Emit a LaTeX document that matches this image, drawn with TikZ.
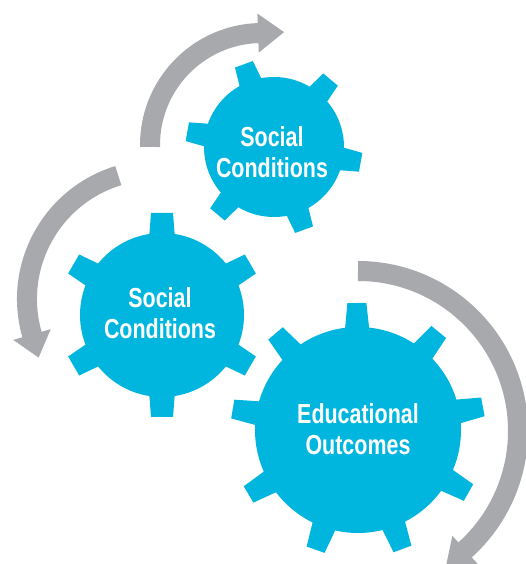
\documentclass[tikz,border=0pt]{standalone}
\usepackage{fontspec}
\newfontfamily\gearfont[FakeStretch=0.78]{Liberation Sans}
\definecolor{gearblue}{RGB}{0,182,222}
\definecolor{arrowgray}{RGB}{167,169,172}
\tikzset{
  gearlabel/.style={text=white, font=\gearfont\bfseries\fontsize{27.5}{31}\selectfont, align=center, inner sep=0pt},
  band/.style={draw=arrowgray, line width=20pt},
  headfill/.style={fill=arrowgray},
  gearfill/.style={fill=gearblue},
}
\begin{document}
\begin{tikzpicture}[x=1pt,y=1pt]
\useasboundingbox (0,0) rectangle (526,564);

% ---- arrows ----
\draw[band] (262,419) ++(181:112) arc[start angle=181, end angle=91.5, radius=112];
\fill[headfill, shift={(262,419)}, rotate=92] (92.5,0) -- (131.5,0) -- (112,-26) -- cycle;

\draw[band] (156,265) ++(107:129) arc[start angle=107, end angle=196.5, radius=129];
\fill[headfill, shift={(156,265)}, rotate=196] (109.5,0) -- (148.5,0) -- (129,24) -- cycle;

\draw[band] (358,133) ++(90:160) arc[start angle=90, end angle=-48.5, radius=160];
\fill[headfill, shift={(358,133)}, rotate=-48] (141,0) -- (179,0) -- (160,-26) -- cycle;

% ---- gear 1 (top) ----
\begin{scope}[shift={(274,417)}]
  \fill[gearfill] (0,0) circle (70);
  \foreach \a in {50,110,...,350}
    \fill[gearfill, rotate=\a] (64,-12) -- (88,-9.5) -- (88,9.5) -- (64,12) -- cycle;
\end{scope}

% ---- gear 2 (middle left) ----
\begin{scope}[shift={(162,249)}]
  \fill[gearfill] (0,0) circle (82);
  \foreach \a in {30,90,...,330}
    \fill[gearfill, rotate=\a] (76,-13) -- (102,-11) -- (102,11) -- (76,13) -- cycle;
\end{scope}

% ---- gear 3 (bottom right) ----
\begin{scope}[shift={(358,134)}]
  \fill[gearfill] (0,0) circle (103);
  \foreach \a in {10.5,50.5,...,340}
    \fill[gearfill, rotate=\a] (97,-12.5) -- (127,-9.5) -- (127,9.5) -- (97,12.5) -- cycle;
\end{scope}

% ---- labels ----
\node[gearlabel] (g1) at (272,412) {Social\\Conditions};
\node[gearlabel] (g2) at (160,251) {Social\\Conditions};
\node[gearlabel] (g3) at (358,135) {Educational\\Outcomes};
\end{tikzpicture}
\end{document}
